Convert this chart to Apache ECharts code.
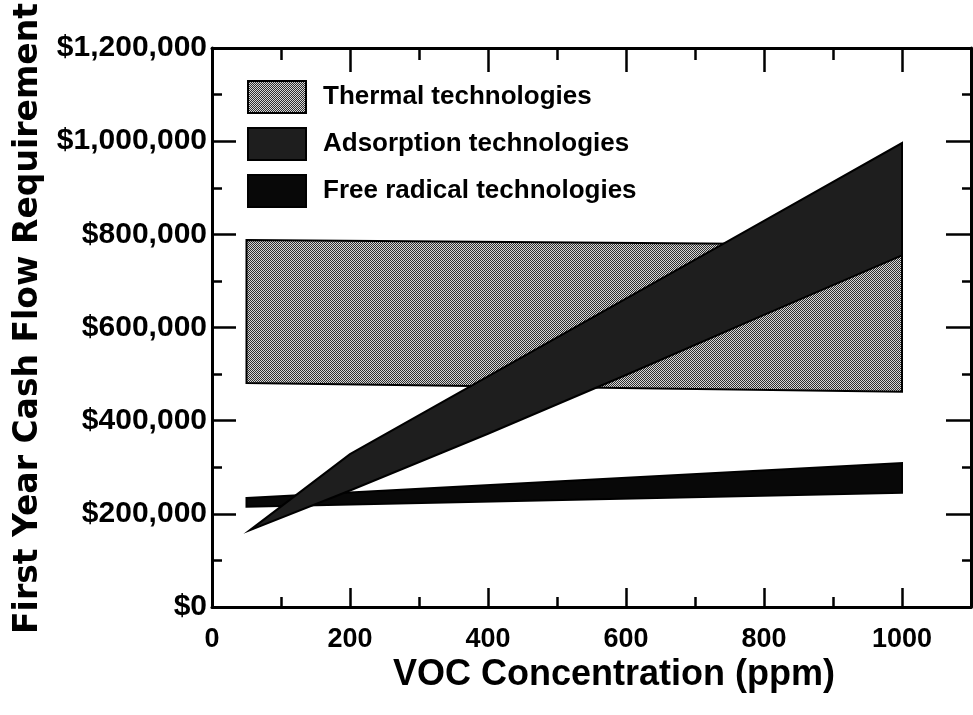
<!DOCTYPE html>
<html>
<head>
<meta charset="utf-8">
<script src="https://cdn.jsdelivr.net/npm/echarts@6/dist/echarts.min.js"></script>
<style>
html,body{margin:0;padding:0;background:#fff;}
#chart{width:973px;height:715px;}
</style>
</head>
<body>
<div id="chart"></div>
<script>
// ---- Data ----
var seriesNames = ['Thermal technologies', 'Adsorption technologies', 'Free radical technologies'];

var thermalX = [50, 1000];
var thermalUpper = [788000, 777000];
var thermalLower = [481000, 462000];

var adsorptionX = [55, 200, 400, 600, 800, 1000];
var adsorptionUpper = [165000, 328000, 495000, 662000, 829000, 996000];
var adsorptionLower = [165000, 250000, 372000, 498000, 627000, 755000];

var freeRadicalX = [50, 1000];
var freeRadicalUpper = [234000, 309000];
var freeRadicalLower = [215000, 245000];

var xTicks = [0, 200, 400, 600, 800, 1000];
var yTicks = [0, 200000, 400000, 600000, 800000, 1000000, 1200000];

// ---- Styling ----
var SANS = '"Liberation Sans", Arial, Helvetica, sans-serif';

function makePattern() {
  var c = document.createElement('canvas');
  c.width = 2; c.height = 2;
  var g = c.getContext('2d');
  g.fillStyle = '#d6d6d6'; g.fillRect(0, 0, 2, 2);
  g.fillStyle = '#2e2e2e'; g.fillRect(0, 0, 1, 1); g.fillRect(1, 1, 1, 1);
  return c;
}
var thermalFill = { image: makePattern(), repeat: 'repeat' };
var adsorptionFill = '#1e1e1e';
var freeFill = '#080808';

function bandRenderer(xs, up, lo, fill) {
  return function (params, api) {
    var pts = [];
    for (var i = 0; i < xs.length; i++) pts.push(api.coord([xs[i], up[i]]));
    for (var j = xs.length - 1; j >= 0; j--) pts.push(api.coord([xs[j], lo[j]]));
    return {
      type: 'polygon',
      shape: { points: pts },
      style: { fill: fill, stroke: '#000', lineWidth: 2, lineJoin: 'miter' }
    };
  };
}

var chart = echarts.init(document.getElementById('chart'), null, { renderer: 'canvas' });

function moneyFmt(v) { return '$' + Number(v).toLocaleString('en-US'); }

var tickStyle = { color: '#000', width: 2.5 };
var lineStyle = { color: '#000', width: 3 };

var option = {
  animation: false,
  backgroundColor: '#fff',
  grid: { left: 212, right: 2, top: 48, bottom: 108, containLabel: false, outerBoundsMode: 'none' },
  legend: {
    orient: 'vertical',
    left: 247, top: 80, padding: 0,
    itemWidth: 58, itemHeight: 32, itemGap: 13,
    icon: 'rect',
    data: ['Thermal technologies', 'Adsorption technologies', 'Free radical technologies'],
    textStyle: { fontFamily: SANS, fontWeight: 'bold', fontSize: 26, color: '#000', padding: [0, 0, 0, 12] },
    selectedMode: false
  },
  xAxis: [{
    type: 'value', min: 0, max: 1100, interval: 200,
    axisLine: { show: true, onZero: false, lineStyle: lineStyle },
    axisTick: { show: true, inside: true, length: 19, lineStyle: tickStyle },
    minorTick: { show: true, splitNumber: 2, length: 10, lineStyle: tickStyle },
    axisLabel: {
      showMaxLabel: false, margin: 19, color: '#000',
      fontFamily: SANS, fontWeight: 'bold', fontSize: 27,
      formatter: function (v) { return xTicks.indexOf(v) >= 0 ? String(v) : ''; }
    },
    splitLine: { show: false },
    name: 'VOC Concentration (ppm)',
    nameLocation: 'middle', nameGap: 50, nameMoveOverlap: false,
    nameTextStyle: { fontFamily: SANS, fontWeight: 'bold', fontSize: 36, color: '#000', padding: [0, 0, 0, 45] }
  }, {
    type: 'value', position: 'top', min: 0, max: 1100, interval: 200,
    axisLine: { show: true, onZero: false, lineStyle: lineStyle },
    axisTick: { show: true, inside: true, length: 24, lineStyle: tickStyle },
    minorTick: { show: true, splitNumber: 2, length: 12, lineStyle: tickStyle },
    axisLabel: { show: false },
    splitLine: { show: false }
  }],
  yAxis: [{
    type: 'value', min: 0, max: 1200000, interval: 200000,
    axisLine: { show: true, onZero: false, lineStyle: lineStyle },
    axisTick: { show: true, inside: true, length: 24, lineStyle: tickStyle },
    minorTick: { show: true, splitNumber: 2, length: 10, lineStyle: tickStyle },
    axisLabel: {
      margin: 5, color: '#000',
      fontFamily: SANS, fontWeight: 'bold', fontSize: 30,
      formatter: function (v) { return yTicks.indexOf(v) >= 0 ? moneyFmt(v) : ''; }
    },
    splitLine: { show: false },
    name: 'First Year Cash Flow Requirement',
    nameLocation: 'middle', nameGap: 167, nameRotate: 90, nameMoveOverlap: false,
    nameTextStyle: { fontFamily: '"DejaVu Sans", sans-serif', fontWeight: 'bold', fontSize: 33, color: '#000', padding: [0, 0, 0, 18] }
  }, {
    type: 'value', position: 'right', min: 0, max: 1200000, interval: 200000,
    axisLine: { show: true, onZero: false, lineStyle: lineStyle },
    axisTick: { show: true, inside: true, length: 25, lineStyle: tickStyle },
    minorTick: { show: true, splitNumber: 2, length: 9, lineStyle: tickStyle },
    axisLabel: { show: false },
    splitLine: { show: false }
  }],
  series: [{
    name: 'Thermal technologies', type: 'custom',
    renderItem: bandRenderer(thermalX, thermalUpper, thermalLower, thermalFill),
    itemStyle: { color: thermalFill, borderColor: '#000', borderWidth: 2 },
    data: [[thermalX[0], thermalUpper[0]]], z: 1
  }, {
    name: 'Free radical technologies', type: 'custom',
    renderItem: bandRenderer(freeRadicalX, freeRadicalUpper, freeRadicalLower, freeFill),
    itemStyle: { color: freeFill, borderColor: '#000', borderWidth: 2 },
    data: [[freeRadicalX[0], freeRadicalUpper[0]]], z: 2
  }, {
    name: 'Adsorption technologies', type: 'custom',
    renderItem: bandRenderer(adsorptionX, adsorptionUpper, adsorptionLower, adsorptionFill),
    itemStyle: { color: adsorptionFill, borderColor: '#000', borderWidth: 2 },
    data: [[adsorptionX[0], adsorptionUpper[0]]], z: 3
  }]
};
chart.setOption(option);
</script>
</body>
</html>
